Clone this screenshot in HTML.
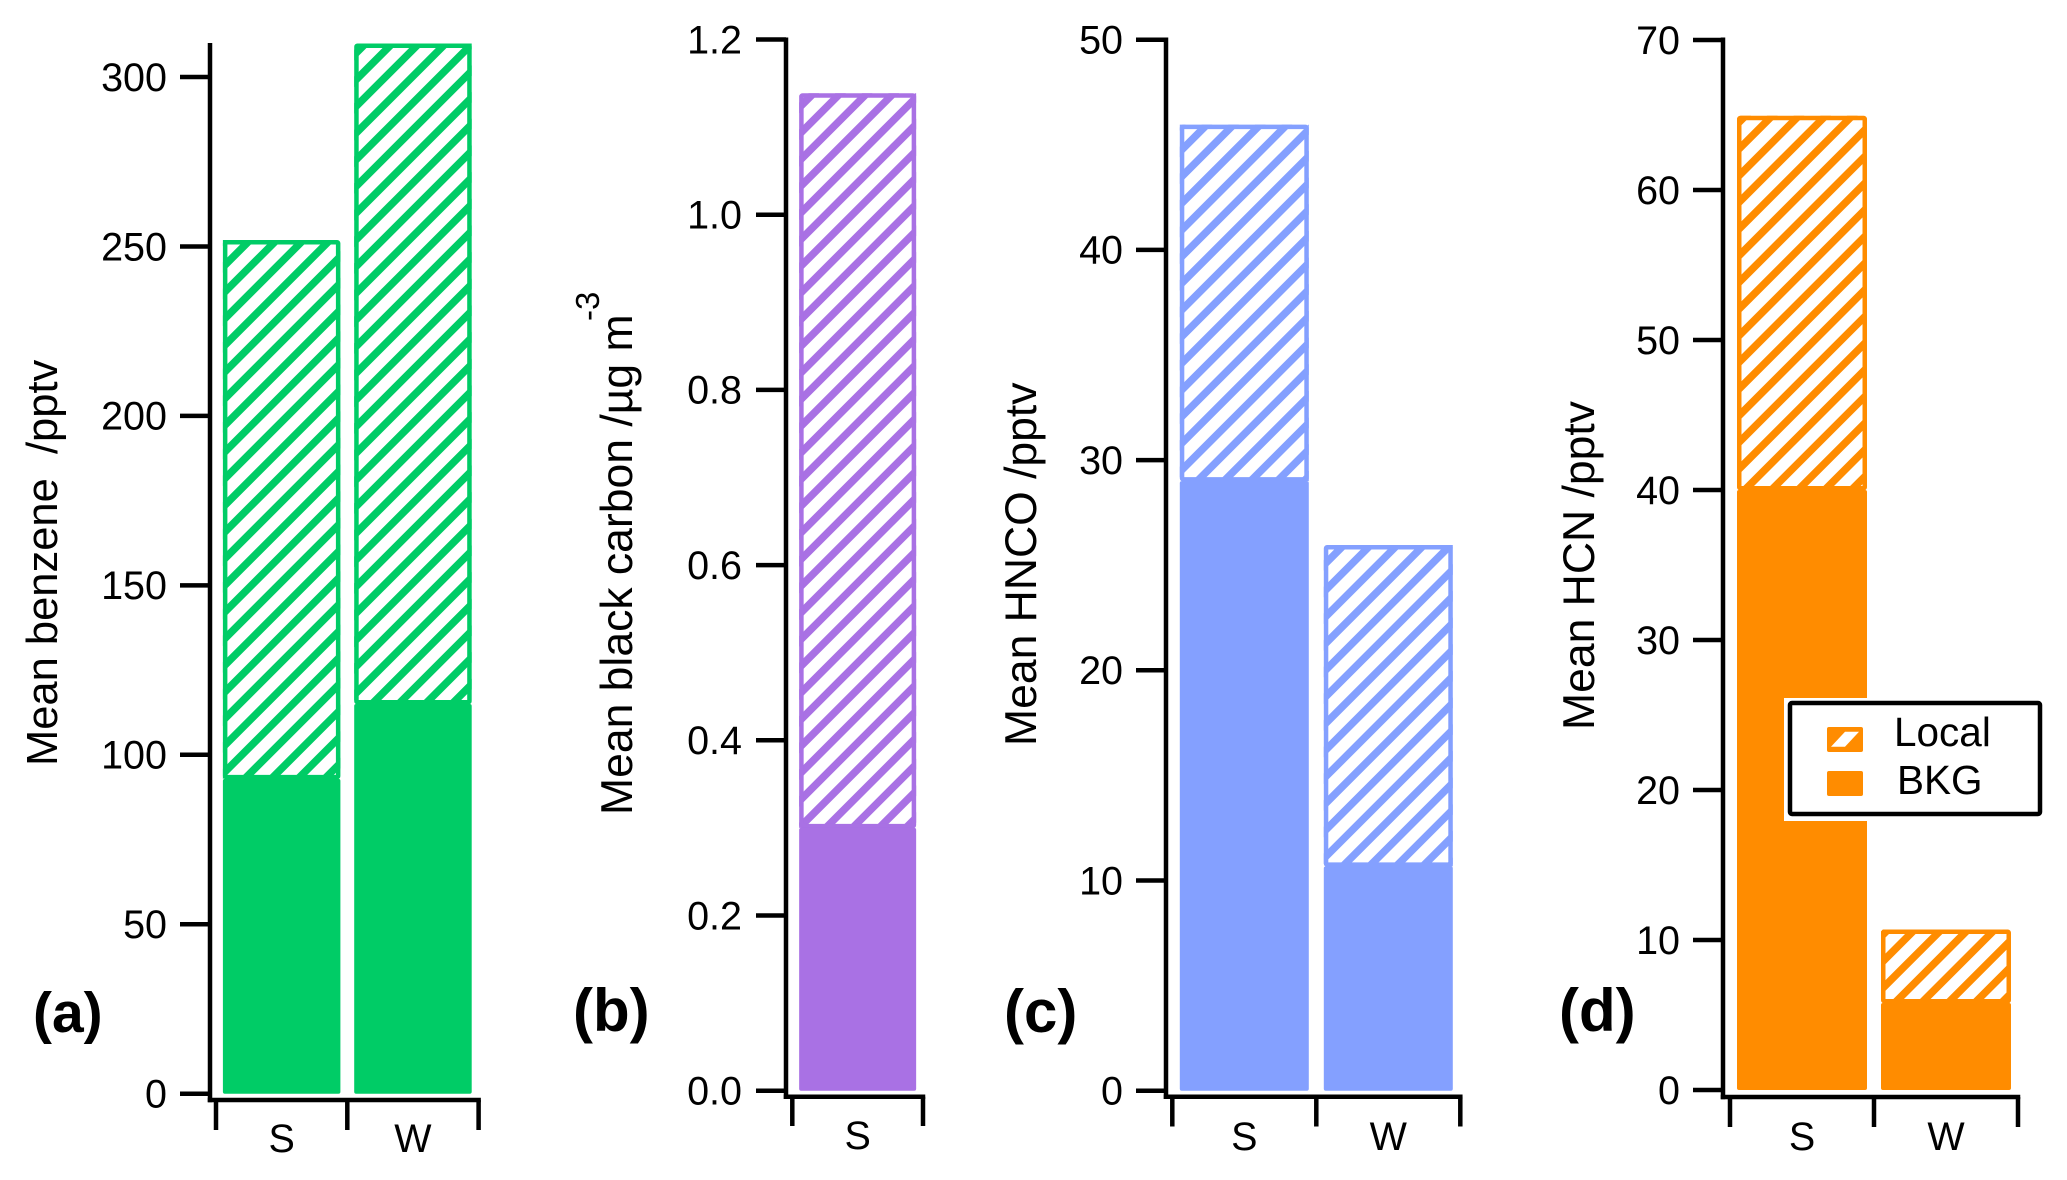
<!DOCTYPE html>
<html lang="en">
<head>
<meta charset="utf-8">
<title>Mean benzene, black carbon, HNCO and HCN by season</title>
<style>
html,body{margin:0;padding:0;background:#fff;}
svg{display:block;}
text{font-family:"Liberation Sans",Arial,sans-serif;fill:#000;}
.ttl{font-size:44.5px;white-space:pre;}
.lab{font-size:60px;font-weight:bold;}
.tk{font-size:40.5px;}
</style>
</head>
<body>
<svg id="figure" xmlns="http://www.w3.org/2000/svg" width="2067" height="1180" viewBox="0 0 2067 1180">
  <rect x="0" y="0" width="2067" height="1180" fill="#fff"/>
  <defs id="defs"></defs>
  <g id="panel-a"></g>
  <g id="panel-b"></g>
  <g id="panel-c"></g>
  <g id="panel-d"></g>

  <text class="ttl" style="font-size:43.5px" transform="translate(57,766) rotate(-90)">Mean benzene  /pptv</text>
  <text class="ttl" transform="translate(632,815) rotate(-90)">Mean black carbon /µg m</text>
  <text font-size="33" transform="translate(599,321) rotate(-90)">-3</text>
  <text class="ttl" transform="translate(1036,746) rotate(-90)">Mean HNCO /pptv</text>
  <text class="ttl" transform="translate(1594,730) rotate(-90)">Mean HCN /pptv</text>

  <text class="lab" style="font-size:57px" x="33" y="1032">(a)</text>
  <text class="lab" x="573" y="1031">(b)</text>
  <text class="lab" x="1004" y="1032">(c)</text>
  <text class="lab" x="1559" y="1031">(d)</text>

  <g>
    <rect x="1784" y="698" width="262" height="123" fill="#fff"/>
    <rect x="1790" y="703" width="250" height="111" rx="2" fill="#fff" stroke="#000" stroke-width="4.5"/>
    <rect x="1827" y="727" width="36" height="25" rx="2" fill="#ff8c00"/>
    <polygon points="1831,746.7 1845,731.7 1859,731.7 1845,746.7" fill="#fff"/>
    <rect x="1827" y="771" width="36" height="25" rx="2" fill="#ff8c00"/>
    <text class="tk" x="1894" y="746">Local</text>
    <text class="tk" x="1897" y="794">BKG</text>
  </g>
</svg>

<script>
// ---- chart values ----
const categoriesA = ['S', 'W'];
const bkgA = [92.9, 115];
const localA = [159, 194.9];
const ticksA = [0, 50, 100, 150, 200, 250, 300];
const tickLabelsA = ['0', '50', '100', '150', '200', '250', '300'];

const categoriesB = ['S'];
const bkgB = [0.30];
const localB = [0.8386];
const ticksB = [0, 0.2, 0.4, 0.6, 0.8, 1.0, 1.2];
const tickLabelsB = ['0.0', '0.2', '0.4', '0.6', '0.8', '1.0', '1.2'];

const categoriesC = ['S', 'W'];
const bkgC = [29.0, 10.67];
const localC = [16.96, 15.29];
const ticksC = [0, 10, 20, 30, 40, 50];
const tickLabelsC = ['0', '10', '20', '30', '40', '50'];

const categoriesD = ['S', 'W'];
const bkgD = [40, 5.8];
const localD = [24.95, 4.9];
const ticksD = [0, 10, 20, 30, 40, 50, 60, 70];
const tickLabelsD = ['0', '10', '20', '30', '40', '50', '60', '70'];

// ---- layout / styling ----
const NS = 'http://www.w3.org/2000/svg';
const AXIS_W = 4.5;
const HATCH_PERIOD = 26.67;
const HATCH_W = 7.5;
const BORDER_W = 4.5;
const TICK_FONT = 39.5;

function el(tag, attrs, parent) {
  const node = document.createElementNS(NS, tag);
  for (const k in attrs) node.setAttribute(k, attrs[k]);
  parent.appendChild(node);
  return node;
}

let clipCount = 0;

function drawPanel(p) {
  const root = document.getElementById(p.id);
  const yOf = v => p.y0 - v * p.yScale;
  const cats = p.categories;
  const xLeft = i => p.tick0 + p.step * i;
  const xCenter = i => p.tick0 + p.step * (i + 0.5);
  const lastTick = xLeft(cats.length);

  // bars
  cats.forEach((cat, i) => {
    const key = cat.toLowerCase();
    const cx = xCenter(i);
    const left = cx - p.barW / 2;
    const bkgTop = yOf(p.bkg[i]);
    const top = yOf(p.bkg[i] + p.local[i]);

    const group = el('g', {}, root);
    
    

    const clipId = 'clip' + (clipCount++);
    const clip = el('clipPath', {id: clipId}, document.getElementById('defs'));
    el('rect', {x: left, y: top, width: p.barW, height: bkgTop - top}, clip);

    let d = '';
    const phase = p.hatchPhase[i];
    const startK = Math.floor((left + top - phase) / HATCH_PERIOD) - 1;
    const endK = Math.ceil((left + p.barW + bkgTop - phase) / HATCH_PERIOD) + 1;
    for (let k = startK; k <= endK; k++) {
      const sum = phase + k * HATCH_PERIOD;
      d += 'M' + (left - 20) + ' ' + (sum - left + 20) + 'L' + (left + p.barW + 20) + ' ' + (sum - left - p.barW - 20);
    }
    const hatch = el('path', {d: d, stroke: p.color, 'stroke-width': HATCH_W, fill: 'none', 'clip-path': 'url(#' + clipId + ')'}, group);
    
    

    const border = el('rect', {
      x: left + BORDER_W / 2, y: top + BORDER_W / 2,
      width: p.barW - BORDER_W, height: bkgTop - top - BORDER_W + 0.5,
      rx: 1, fill: 'none', stroke: p.color, 'stroke-width': BORDER_W
    }, group);
    
    

    const solid = el('rect', {x: left, y: bkgTop, width: p.barW, height: p.y0 - bkgTop, rx: 2, fill: p.color}, group);
    
    
  });

  // y axis
  const yAxis = el('line', {x1: p.axisX, x2: p.axisX, y1: p.axisTop, y2: p.axisY + AXIS_W / 2, stroke: '#000', 'stroke-width': AXIS_W}, root);
  
  

  p.ticks.forEach((v, i) => {
    const y = yOf(v);
    const tick = el('line', {x1: p.axisX - 30, x2: p.axisX, y1: y, y2: y, stroke: '#000', 'stroke-width': AXIS_W}, root);
    
    
    const label = el('text', {x: p.labelRight, y: y + 13.8, 'text-anchor': 'end', 'font-size': TICK_FONT}, root);
    
    
    label.textContent = p.tickLabels[i];
  });

  // x axis
  const xAxis = el('line', {x1: p.axisX - AXIS_W / 2, x2: lastTick + AXIS_W / 2, y1: p.axisY, y2: p.axisY, stroke: '#000', 'stroke-width': AXIS_W}, root);
  
  

  for (let i = 0; i <= cats.length; i++) {
    const t = el('line', {x1: xLeft(i), x2: xLeft(i), y1: p.axisY, y2: p.tickBottom, stroke: '#000', 'stroke-width': AXIS_W}, root);
    
    
  }
  cats.forEach((cat, i) => {
    const label = el('text', {x: xCenter(i), y: p.catBaseline, 'text-anchor': 'middle', 'font-size': TICK_FONT}, root);
    
    
    label.textContent = cat;
  });
}

drawPanel({
  id: 'panel-a', categories: categoriesA, bkg: bkgA, local: localA, ticks: ticksA, tickLabels: tickLabelsA,
  color: '#00cc66', y0: 1093.7, yScale: 3.389, axisX: 210, axisTop: 43, axisY: 1100,
  tick0: 216, step: 131.3, barW: 117.5, tickBottom: 1130, catBaseline: 1152, labelRight: 167,
  hatchPhase: [10, 9.1]
});
drawPanel({
  id: 'panel-b', categories: categoriesB, bkg: bkgB, local: localB, ticks: ticksB, tickLabels: tickLabelsB,
  color: '#a971e4', y0: 1090.7, yScale: 876, axisX: 786, axisTop: 37.5, axisY: 1096.7,
  tick0: 792.3, step: 130.7, barW: 117, tickBottom: 1126, catBaseline: 1149, labelRight: 742,
  hatchPhase: [0.2]
});
drawPanel({
  id: 'panel-c', categories: categoriesC, bkg: bkgC, local: localC, ticks: ticksC, tickLabels: tickLabelsC,
  color: '#84a0ff', y0: 1090.7, yScale: 21.02, axisX: 1166, axisTop: 37.5, axisY: 1096.7,
  tick0: 1172.3, step: 144, barW: 129, tickBottom: 1126.5, catBaseline: 1150, labelRight: 1123,
  hatchPhase: [24.8, 22.1]
});
drawPanel({
  id: 'panel-d', categories: categoriesD, bkg: bkgD, local: localD, ticks: ticksD, tickLabels: tickLabelsD,
  color: '#ff8c00', y0: 1090, yScale: 15, axisX: 1723, axisTop: 37.5, axisY: 1097,
  tick0: 1730, step: 144, barW: 130, tickBottom: 1127, catBaseline: 1150, labelRight: 1680,
  hatchPhase: [21.1, 17.3]
});
</script>
</body>
</html>
